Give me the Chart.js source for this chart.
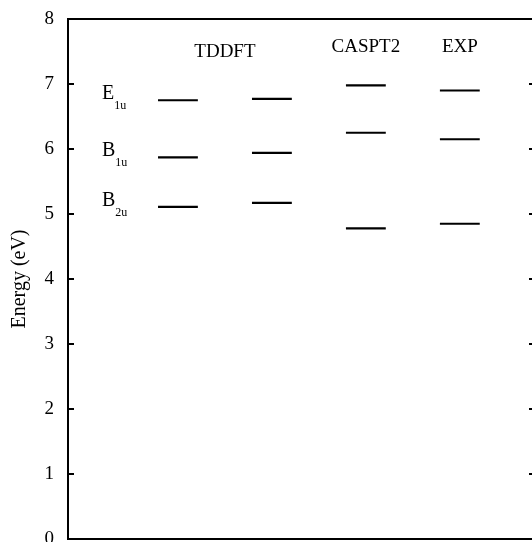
<!DOCTYPE html>
<html>
<head>
<meta charset="utf-8">
<script src="https://cdn.jsdelivr.net/npm/chart.js@4.4.1/dist/chart.umd.min.js"></script>
<style>
  html, body { margin: 0; padding: 0; background: #fff; overflow: hidden; width: 532px; height: 542px; }
  #wrap { position: absolute; left: 0; top: 0; width: 542px; height: 552px; }
</style>
</head>
<body>
<div id="wrap"><canvas id="c"></canvas></div>
<script>
// ---- data ----
const columnGroups = ['TDDFT', 'TDDFT', 'CASPT2', 'EXP'];
const stateNames = ['E', 'B', 'B'];
const stateSubs = ['1u', '1u', '2u'];
const tddftA = [6.75, 5.87, 5.11];
const tddftB = [6.77, 5.94, 5.17];
const caspt2 = [6.98, 6.25, 4.78];
const expVals = [6.90, 6.15, 4.85];
const yTicks = [0, 1, 2, 3, 4, 5, 6, 7, 8];

const columns = [tddftA, tddftB, caspt2, expVals];
const HALF = 0.212;
const SERIF = '"Liberation Serif", "Times New Roman", serif';

const datasets = [];
columns.forEach((vals, i) => {
  vals.forEach((v) => {
    datasets.push({
      data: [{ x: i - HALF, y: v }, { x: i + HALF, y: v }],
      borderColor: '#000',
      borderWidth: 2.2,
      pointRadius: 0,
      fill: false,
      tension: 0
    });
  });
});

const decor = {
  id: 'decor',
  afterDraw(chart) {
    const { ctx, chartArea } = chart;
    const xs = chart.scales.x, ys = chart.scales.y;
    ctx.save();
    ctx.strokeStyle = '#000';
    ctx.fillStyle = '#000';
    ctx.lineWidth = 2;
    ctx.beginPath();
    ctx.moveTo(chartArea.left - 1, chartArea.top);
    ctx.lineTo(chartArea.right + 1, chartArea.top);
    ctx.stroke();
    ctx.beginPath();
    ctx.moveTo(chartArea.right, chartArea.top);
    ctx.lineTo(chartArea.right, chartArea.bottom);
    ctx.stroke();
    yTicks.forEach((t) => {
      if (t === 0 || t === 8) return;
      const py = ys.getPixelForValue(t);
      ctx.beginPath();
      ctx.moveTo(chartArea.left, py);
      ctx.lineTo(chartArea.left + 6, py);
      ctx.moveTo(chartArea.right, py);
      ctx.lineTo(chartArea.right - 6, py);
      ctx.stroke();
    });
    ctx.font = '19px ' + SERIF;
    ctx.textAlign = 'center';
    ctx.textBaseline = 'middle';
    const groups = [...new Set(columnGroups)];
    groups.forEach((g) => {
      const idx = columnGroups.map((c, i) => c === g ? i : -1).filter(i => i >= 0);
      const mid = idx.reduce((a, b) => a + b, 0) / idx.length;
      const px = xs.getPixelForValue(mid);
      const py = chartArea.top + (idx.length > 1 ? 33 : 28);
      ctx.fillText(g, px, py);
    });
    const x0 = xs.getPixelForValue(0) - 76;
    tddftA.forEach((v, j) => {
      const py = ys.getPixelForValue(v) - 1;
      ctx.textAlign = 'left';
      ctx.textBaseline = 'alphabetic';
      ctx.font = '20px ' + SERIF;
      ctx.fillText(stateNames[j], x0, py);
      const w = ctx.measureText(stateNames[j]).width;
      ctx.font = '12px ' + SERIF;
      ctx.fillText(stateSubs[j], x0 + w, py + 10);
    });
    ctx.restore();
  }
};

new Chart(document.getElementById('c'), {
  type: 'line',
  data: { datasets },
  plugins: [decor],
  options: {
    responsive: true,
    maintainAspectRatio: false,
    animation: false,
    layout: { padding: { left: 0, right: 7, top: 19, bottom: 13 } },
    plugins: { legend: { display: false }, tooltip: { enabled: false } },
    scales: {
      x: {
        type: 'linear',
        min: -1.17,
        max: 3.8,
        ticks: { display: false },
        grid: { display: false, drawTicks: false },
        border: { display: true, color: '#000', width: 2 },
        afterFit(s) { s.height = 0; s.paddingLeft = 0; s.paddingRight = 0; }
      },
      y: {
        type: 'linear',
        min: 0,
        max: 8,
        afterBuildTicks(s) { s.ticks = yTicks.map(v => ({ value: v })); },
        ticks: {
          color: '#000',
          padding: 14,
          font: { family: SERIF, size: 19 },
          callback: (v) => String(v)
        },
        grid: { display: false, drawTicks: false },
        border: { display: true, color: '#000', width: 2 },
        title: {
          display: true,
          text: 'Energy (eV)',
          color: '#000',
          font: { family: SERIF, size: 20 },
          padding: { top: 8, bottom: 0 }
        },
        afterFit(s) { s.width = 68; s.paddingTop = 0; s.paddingBottom = 0; }
      }
    }
  }
});
</script>
</body>
</html>
